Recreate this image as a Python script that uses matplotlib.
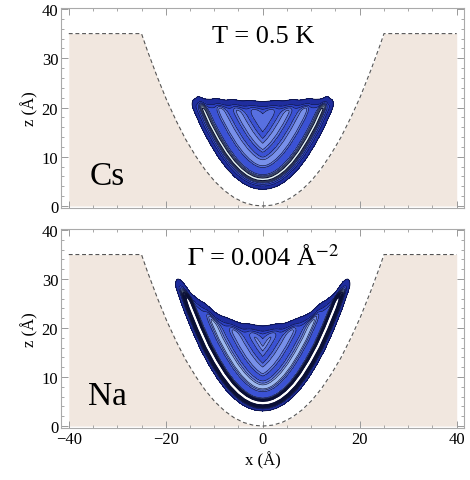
import numpy as np
import matplotlib.pyplot as plt
from matplotlib import ticker

plt.rcParams['font.family'] = ['Liberation Serif', 'DejaVu Serif']
plt.rcParams['mathtext.fontset'] = 'stix'

# well profile (substrate surface), x and z in Angstrom
wall_x = [-40, -25, -24, -22, -20, -18, -16, -14, -12, -10, -8, -6, -4, -2, 0,
          2, 4, 6, 8, 10, 12, 14, 16, 18, 20, 22, 24, 25, 40]
wall_z = [35, 35, 32.1, 26.8, 21.9, 17.6, 13.7, 10.4, 7.5, 5.1, 3.2, 1.75, 0.75, 0.17, 0,
          0.17, 0.75, 1.75, 3.2, 5.1, 7.5, 10.4, 13.7, 17.6, 21.9, 26.8, 32.1, 35, 35]

# helium layering: edge of the film (offset at the bottom, extra offset per 20 A of height),
# layer distances from the wall, peak heights, outer and inner widths
cs_edge = [3.9, 1.0]
cs_layer_pos = [5.1, 8.2, 11.2, 14.2]
cs_layer_amp = [2.6, 0.9, 0.7, 0.5]
cs_wid_out = [0.45, 0.6, 0.7, 0.8]
cs_wid_in = [0.55, 0.9, 1.0, 1.1]
cs_top_x = [-26, -16, -12, -8, -4, 0, 4, 8, 12, 16, 26]
cs_top_z = [20.6, 20.6, 20.5, 20.3, 20.1, 20.0, 20.1, 20.3, 20.5, 20.6, 20.6]

na_edge = [3.75, 1.0]
na_layer_pos = [4.5, 7.5, 10.6, 13.7]
na_layer_amp = [11.0, 1.2, 0.8, 0.55]
na_wid_out = [0.65, 0.6, 0.7, 0.8]
na_wid_in = [0.45, 0.85, 0.95, 1.05]
na_top_x = [-26, -18.5, -16, -13, -10, -7, -4, 0, 4, 7, 10, 13, 16, 18.5, 26]
na_top_z = [29.2, 29.2, 26.8, 24.4, 22.0, 20.5, 19.6, 19.2, 19.6, 20.5, 22.0, 24.4, 26.8, 29.2, 29.2]

levels = [0.03, 0.4, 0.8, 1.15, 1.5, 1.9, 2.4, 3.0, 3.6, 4.3, 5.0, 5.8, 6.6, 7.4, 8.2]
band_colors = ['#1f2d9e', '#2c40c4', '#3b52d4', '#5870e0', '#7890ea', '#9db8f0',
               '#c6e6f0', '#e6f6f6'] + ['#ffffff'] * 7
line_widths = [0.55] + [0.45] * 6 + [0.8] * 8

gx = np.linspace(-26, 26, 417)
gz = np.linspace(0, 36, 289)
X, Z = np.meshgrid(gx, gz)

# distance from every grid point to the substrate surface
sx = np.linspace(-25, 25, 601)
sz = np.interp(sx, wall_x, wall_z)
dist = np.full(X.shape, np.inf)
for px, pz in zip(sx, sz):
    dist = np.minimum(dist, np.hypot(X - px, Z - pz))
below = Z < np.interp(X, wall_x, wall_z)


def density(edge, pos, amp, w_out, w_in, top_x, top_z, edge_w):
    d = dist - edge[1] * Z / 20.0
    rho = 0.5 * (1 + np.tanh((d - edge[0]) / edge_w))
    for p, a, wo, wi in zip(pos, amp, w_out, w_in):
        w = np.where(d < p, wo, wi)
        rho = rho + a * np.exp(-((d - p) / w) ** 2)
    rho = rho * 0.5 * (1 - np.tanh((Z - np.interp(X, top_x, top_z)) / 0.7))
    rho[below] = 0
    return rho


panels = [
    ('Cs', 'T = 0.5 K',
     density(cs_edge, cs_layer_pos, cs_layer_amp, cs_wid_out, cs_wid_in, cs_top_x, cs_top_z, 0.4)),
    ('Na', r'$\Gamma$ = 0.004 Å$^{-2}$',
     density(na_edge, na_layer_pos, na_layer_amp, na_wid_out, na_wid_in, na_top_x, na_top_z, 0.2)),
]

fig = plt.figure(figsize=(4.7, 4.81), dpi=100)
boxes = [[0.1298, 0.5655, 0.8574, 0.4158], [0.1298, 0.108, 0.8574, 0.4137]]

fx = np.linspace(-40, 40, 801)
fz = np.interp(fx, wall_x, wall_z)

for box, (metal, title, rho) in zip(boxes, panels):
    ax = fig.add_axes(box)
    ax.fill_between(fx, 0, fz, color='#f1e7df', lw=0, zorder=1)
    ax.contourf(X, Z, rho, levels=levels, colors=band_colors[:len(levels) - 1],
                extend='max', zorder=2)
    ax.contour(X, Z, rho, levels=levels, colors='#0a0f35', linewidths=line_widths, zorder=2)
    ax.plot(fx, fz, ls=(0, (3.5, 2.5)), color='#555555', lw=0.8, zorder=3)

    ax.text(0, 34.5, title, ha='center', va='center', fontsize=19)
    ax.text(-32, 6.2, metal, ha='center', va='center', fontsize=24)

    ax.set_xlim(-41.6, 41.5)
    ax.set_ylim(-0.4, 40.2)
    ax.xaxis.set_major_locator(ticker.MultipleLocator(20))
    ax.xaxis.set_minor_locator(ticker.MultipleLocator(5))
    ax.yaxis.set_major_locator(ticker.MultipleLocator(10))
    ax.yaxis.set_minor_locator(ticker.MultipleLocator(2))
    ax.tick_params(which='both', direction='in', top=True, right=True, color='#999999',
                   labelsize=12, pad=2)
    ax.tick_params(which='major', length=5, width=0.7)
    ax.tick_params(which='minor', length=2.5, width=0.6)
    for s in ax.spines.values():
        s.set_color('#aaaaaa')
    ax.set_ylabel('z (Å)', fontsize=12, labelpad=2)
    if metal == 'Cs':
        ax.tick_params(labelbottom=False)
    else:
        ax.set_xlabel('x (Å)', fontsize=12, labelpad=3)

fig.savefig('out.png', dpi=100)
